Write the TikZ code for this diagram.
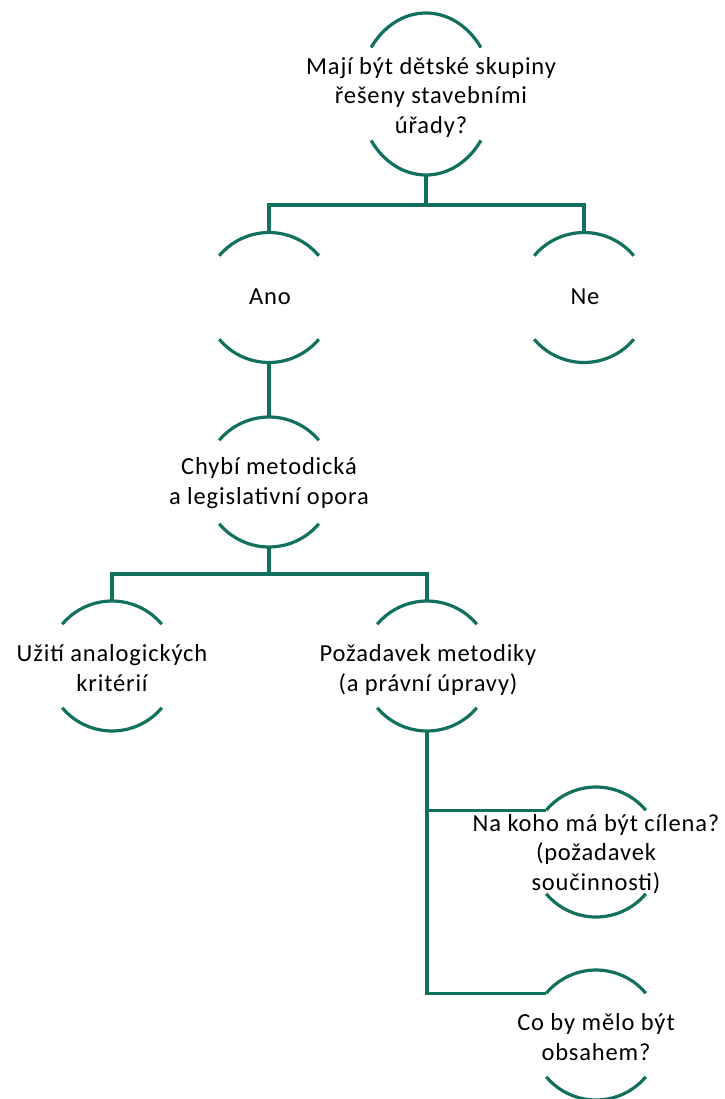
\documentclass[tikz,border=0pt]{standalone}
\usepackage{fontspec}
\setmainfont{Carlito}[LetterSpace=3.5]
\usetikzlibrary{shapes.geometric}
\definecolor{teal1}{HTML}{12705F}
\newcommand\arcpair[4]{%
  \draw[conn] ([shift={(#4:#2 and #3)}]#1.center) arc[start angle=#4,end angle=180-#4,x radius=#2,y radius=#3];
  \draw[conn] ([shift={(-#4:#2 and #3)}]#1.center) arc[start angle=-#4,end angle=-180+#4,x radius=#2,y radius=#3];}
\tikzset{
  conn/.style={draw=teal1,line width=3.2pt},
  ring/.style={circle,minimum size=130pt,inner sep=0pt,outer sep=0pt},
  txt/.style={align=center,inner sep=0pt,font=\fontsize{24.5}{29.5}\selectfont,text=black}
}
\begin{document}
\begin{tikzpicture}[x=1pt,y=1pt]
\useasboundingbox (0,0) rectangle (724,-1099);
% shape nodes
\node[ellipse,minimum width=134pt,minimum height=162pt,inner sep=0pt,outer sep=0pt] (top) at (426,-94) {};
\node[ring] (ano) at (269,-297.5) {};
\node[ring] (ne) at (584,-297.5) {};
\node[ring] (chy) at (269,-482) {};
\node[ring] (uz) at (112,-666) {};
\node[ring] (poz) at (427,-666) {};
\node[ring] (nak) at (596,-852) {};
\node[ring] (co) at (596,-1035) {};
% arcs
\arcpair{top}{67pt}{81pt}{35}
\arcpair{ano}{65pt}{65pt}{40}
\arcpair{ne}{65pt}{65pt}{40}
\arcpair{chy}{65pt}{65pt}{40}
\arcpair{uz}{65pt}{65pt}{40}
\arcpair{poz}{65pt}{65pt}{40}
\arcpair{nak}{65pt}{65pt}{40}
\arcpair{co}{65pt}{65pt}{40}
% texts
\node[txt] (topt) at (431,-97) {Mají být dětské skupiny\\řešeny stavebními\\úřady?};
\node[txt] (anot) at (270,-297) {Ano};
\node[txt] (net) at (585,-297) {Ne};
\node[txt] (chyt) at (269,-483) {Chybí metodická\\a legislativní opora};
\node[txt] (uzt) at (112,-668) {Užití analogických\\kritérií};
\node[txt] (pozt) at (428,-670) {Požadavek metodiky\\(a právní úpravy)};
\node[txt] (nakt) at (596,-854) {Na koho má být cílena?\\(požadavek\\součinnosti)};
\node[txt] (cot) at (596,-1037) {Co by mělo být\\obsahem?};
% connectors
\coordinate (j1) at (426,-205);
\coordinate (j2) at (269,-574);
\draw[conn] (top.south) -- (j1);
\draw[conn] (ano.north) |- (j1) -| (ne.north);
\draw[conn] (ano.south) -- (chy.north);
\draw[conn] (chy.south) -- (j2);
\draw[conn] (uz.north) |- (j2) -| (poz.north);
\draw[conn] (poz.south) |- (nak.140);
\draw[conn] (poz.south) |- (co.140);
\end{tikzpicture}
\end{document}
